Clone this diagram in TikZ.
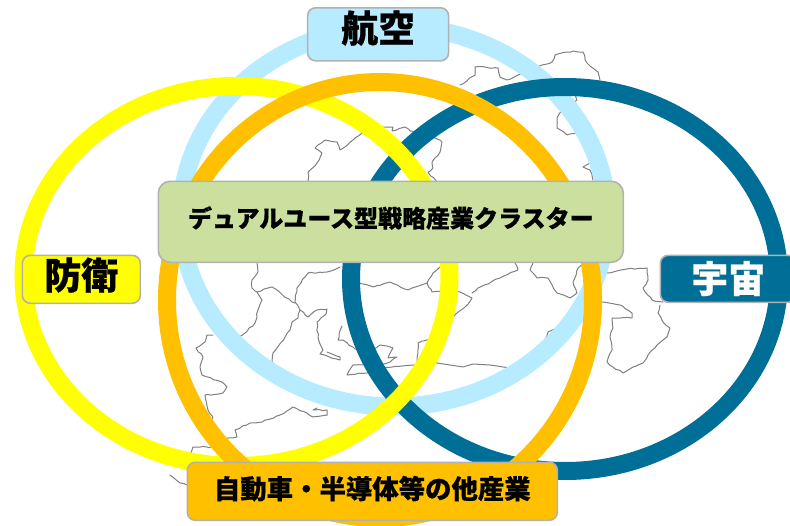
\documentclass[tikz,border=0pt]{standalone}
\usepackage{fontspec}
\usetikzlibrary{decorations.pathmorphing}
\setmainfont{Noto Sans CJK JP}[BoldFeatures={FakeBold=0.6}]
\pgfmathsetseed{7}
\tikzset{
  mapline/.style={draw=black!50,line width=1pt,line join=round,line cap=round,decorate,decoration={random steps,segment length=4pt,amplitude=0.7pt}},
  ring/.style={line width=18pt,fill=none},
  labelbox/.style={draw=black!30,line width=1.6pt,rounded corners=8pt,anchor=north west,inner sep=0pt,align=center,font=\bfseries},
  bigtext/.style={labelbox,font=\fontsize{37}{37}\selectfont\bfseries}
}
\definecolor{ringblue}{HTML}{B7EBFF}
\definecolor{ringteal}{HTML}{006F98}
\definecolor{ringyellow}{HTML}{FFFF00}
\definecolor{ringorange}{HTML}{FFC000}
\definecolor{boxgreen}{HTML}{CBE09F}
\begin{document}
\begin{tikzpicture}[x=1pt,y=-1pt]
\useasboundingbox (0,0) rectangle (790,525);
\clip (0,0) rectangle (790,525);
\fill[white] (0,0) rectangle (790,525);
% map
\draw[mapline] (362,133)--(353,140)--(340,150)--(337,142)--(325,140)--(315,148)--(322,153)--(317,163)--(308,172)--(308,182);
\draw[mapline] (382,127)--(393,127)--(392,131)--(405,127)--(410,131)--(420,132)--(433,137)--(442,142)--(440,152)--(432,162)--(433,168)--(428,172)--(437,182);
\draw[mapline] (460,85)--(475,75)--(475,67)--(498,68)--(500,77)--(507,80)--(523,73)--(542,65)--(552,62)--(555,55)--(573,51)--(583,52)--(587,63)--(598,72)--(600,80);
\draw[mapline] (575,95)--(577,100)--(562,110)--(557,118)--(557,128)--(567,135)--(577,133);
\draw[mapline] (588,153)--(590,163)--(583,167)--(590,170)--(593,180);
\draw[mapline] (257,263)--(258,272)--(252,280)--(252,288)--(257,292)--(272,287)--(292,302)--(295,303);
\draw[mapline] (340,267)--(327,272)--(308,273)--(297,288)--(295,302)--(300,310)--(298,318)--(292,322)--(290,330)--(273,353)--(272,362)--(277,368)--(283,372)--(300,382)--(320,387)--(333,393);
\draw[mapline] (300,310)--(308,317)--(317,310)--(327,309)--(325,315)--(317,322)--(318,337)--(323,350)--(320,354)--(340,360)--(340,357)--(327,352);
\draw[mapline] (257,292)--(262,300)--(258,310)--(255,323)--(245,333)--(238,337);
\draw[mapline] (213,335)--(207,335)--(205,342)--(196,348)--(203,357)--(200,367)--(202,375)--(222,382)--(227,387)--(223,393)--(205,395)--(208,410)--(213,417)--(210,423);
\draw[mapline] (327,415)--(313,417)--(307,413)--(293,407)--(280,415)--(262,422)--(250,423)--(235,430)--(237,437)--(227,438)--(225,448)--(207,447)--(193,447)--(188,458);
\draw[mapline] (327,415)--(327,410)--(313,410)--(317,408);
\draw[mapline] (170,475)--(180,483)--(187,485);
\draw[mapline] (342,326)--(338,340)--(343,340)--(355,349)--(373,350)--(380,345)--(393,348)--(388,358)--(397,357)--(390,362)--(380,365);
\draw[mapline] (363,365)--(353,365)--(347,375)--(367,373)--(383,368)--(437,363);
\draw[mapline,decorate=false] (437,363)--(463,367)--(473,364)--(490,365)--(510,368);
\draw[mapline] (358,282)--(373,287)--(390,282)--(408,290)--(427,283)--(433,273)--(440,267);
\draw[mapline] (427,283)--(432,292)--(460,292)--(472,298)--(465,307)--(453,317);
\draw[mapline] (417,362)--(418,343)--(430,339);
\draw[mapline] (472,293)--(478,288)--(500,278)--(518,270)--(515,263);
\draw[mapline] (533,263)--(530,270)--(537,278)--(548,278)--(557,293)--(570,298)--(577,293)--(573,282)--(578,268)--(583,263);
\draw[mapline] (607,273)--(627,269)--(647,268)--(648,280)--(643,288)--(652,300)--(663,302);
\draw[mapline] (660,305)--(658,313)--(663,322)--(670,328)--(667,337)--(657,345)--(648,355)--(643,363)--(633,367)--(623,373)--(613,367)--(607,362)--(612,350)--(610,337)--(613,328)--(612,318)--(632,318)--(632,313)--(620,305)--(602,302);
\draw[mapline] (557,328)--(548,332)--(545,340);
\draw[mapline] (528,357)--(533,354);
% rings
\draw[ring,draw=ringblue] (394,216.5) ellipse [x radius=213pt,y radius=190pt];
\draw[ring,draw=ringteal] (565,279) ellipse [x radius=214pt,y radius=192pt];
\draw[ring,draw=ringyellow] (236.5,276) ellipse [x radius=213pt,y radius=190pt];
\draw[ring,draw=ringorange] (380,300) ellipse [x radius=213pt,y radius=218pt];
% boxes
\node[bigtext,fill=ringblue,minimum width=141pt,minimum height=53pt] (air) at (306.8,7) {\raisebox{16pt}{航空}};
\node[bigtext,fill=ringyellow,minimum width=118pt,minimum height=48pt] (def) at (21.5,254.5) {\raisebox{12pt}{防衛}};
\node[bigtext,fill=ringteal,text=white,minimum width=136pt,minimum height=47pt] (space) at (659.5,254.5) {\raisebox{4pt}{宇宙}};
\node[labelbox,rounded corners=12pt,fill=boxgreen,minimum width=465pt,minimum height=81pt,font=\fontsize{24}{24}\selectfont\bfseries] (dual) at (157.5,180.5) {\raisebox{10pt}{デュアルユース型戦略産業クラスター}};
\node[labelbox,fill=ringorange,minimum width=370pt,minimum height=58pt,font=\fontsize{26.4}{26.4}\selectfont\bfseries] (auto) at (186.5,461.5) {\raisebox{8pt}{自動車・半導体等の他産業}};
\end{tikzpicture}
\end{document}
